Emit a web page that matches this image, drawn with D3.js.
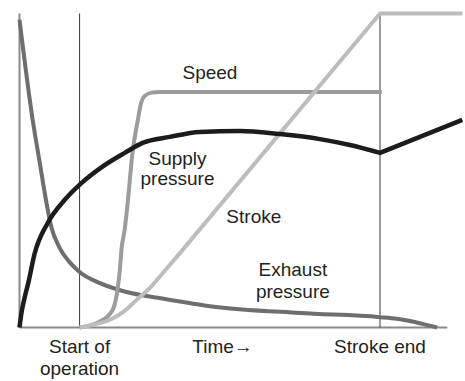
<!DOCTYPE html>
<html>
<head>
<meta charset="utf-8">
<script src="https://cdn.jsdelivr.net/npm/d3@7"></script>
<style>
  html, body { margin: 0; padding: 0; background: #fff; }
  text { font-family: "Liberation Sans", Arial, Helvetica, sans-serif; fill: #231f20; }
</style>
</head>
<body>
<svg id="chart" width="465" height="381"></svg>
<script>
// Time axis: 0 = start of operation, 5 = stroke end (one unit = 1/5 of the stroke time)
// Values are in percent of full scale.
const exhaustPressure = [[-1, 98], [-0.78, 66], [-0.67, 53.3], [-0.55, 39.6], [-0.47, 32],
  [-0.33, 25.3], [-0.17, 20.9], [0, 17.7], [0.33, 14.2], [0.78, 11.3], [1.33, 9.4],
  [2.17, 6.8], [3.67, 4.6], [5, 3.3], [5.28, 2.8], [5.95, 0]];

const supplyPressure = [[-1, 0], [-0.97, 4.3], [-0.92, 9.1], [-0.85, 14.5], [-0.75, 23.4],
  [-0.53, 33.3], [-0.25, 40.6], [0.03, 46], [0.37, 51.1], [0.75, 55.6], [1.05, 58.8],
  [1.5, 60.7], [2, 62.3], [2.67, 62.6], [3.33, 61.6], [4, 60], [4.5, 58.1], [5, 55.6]];
const supplyAfterEnd = [[6.37, 66.1]];

const speed = [[0, 0], [0.33, 1.8], [0.55, 5.6], [0.63, 11.9], [0.67, 18.3], [0.7, 25.3],
  [0.75, 31.1], [0.8, 39.6], [0.88, 55.6], [0.97, 66.1], [1.02, 71.2], [1.08, 73.7],
  [1.2, 74.8], [1.33, 75], [5.03, 75]];

const strokeStart = [[0, 0], [0.25, 1.0], [0.5, 2.4], [0.75, 5.3], [0.95, 8.8],
  [1.17, 12.6], [1.33, 16.1], [1.5, 19.9], [1.67, 23.7]];
const strokeRamp = [[5, 100], [6.37, 100]];

// Vertical reference lines and the time axis
const markerTimes = [0, 5];
const axisStart = -1, axisEnd = 6.12, axisTop = 100;
const tickLabels = [
  { t: 0, lines: ["Start of", "operation"] },
  { t: 2.38, lines: ["Time\u2192"] },
  { t: 5, lines: ["Stroke end"] }
];
const curveLabels = [
  { t: 2.17, v: 79.1, lines: ["Speed"] },
  { t: 1.63, v: 51.8, lines: ["Supply", "pressure"], gap: 20 },
  { t: 2.9, v: 33.3, lines: ["Stroke"] },
  { t: 3.55, v: 16.4, lines: ["Exhaust", "pressure"], gap: 22 }
];

const svg = d3.select("#chart");
const x = d3.scaleLinear().domain([-1, 5]).range([19.5, 380]);
const y = d3.scaleLinear().domain([0, 100]).range([327.5, 13.5]);

// Axes frame
svg.append("line")
  .attr("x1", x(axisStart)).attr("x2", x(axisEnd))
  .attr("y1", y(0)).attr("y2", y(0))
  .attr("stroke", "#8a8a8a").attr("stroke-width", 2);
svg.append("line")
  .attr("x1", x(axisStart)).attr("x2", x(axisStart))
  .attr("y1", y(0)).attr("y2", y(axisTop))
  .attr("stroke", "#8a8a8a").attr("stroke-width", 2);
svg.selectAll("line.marker").data(markerTimes).join("line")
  .attr("class", "marker")
  .attr("x1", d => x(d)).attr("x2", d => x(d))
  .attr("y1", y(0)).attr("y2", y(axisTop))
  .attr("stroke", "#3a3a3a").attr("stroke-width", 1);

// Builds a path: smooth through `curvePts`, then straight segments through `straightPts`
function seriesPath(curvePts, straightPts) {
  const p = d3.path();
  d3.line().x(d => x(d[0])).y(d => y(d[1])).curve(d3.curveMonotoneX).context(p)(curvePts);
  (straightPts || []).forEach(d => p.lineTo(x(d[0]), y(d[1])));
  return p.toString();
}

const series = [
  { d: seriesPath(exhaustPressure), color: "#6e6e6e", w: 4 },
  { d: seriesPath(speed), color: "#9c9c9c", w: 4 },
  { d: seriesPath(strokeStart, strokeRamp), color: "#bdbdbd", w: 4 },
  { d: seriesPath(supplyPressure, supplyAfterEnd), color: "#1c1c1c", w: 4.5 }
];
svg.selectAll("path.series").data(series).join("path")
  .attr("class", "series")
  .attr("d", d => d.d)
  .attr("fill", "none")
  .attr("stroke", d => d.color)
  .attr("stroke-width", d => d.w)
  .attr("stroke-linejoin", "round");

// Curve labels
curveLabels.forEach(l => {
  const t = svg.append("text")
    .attr("text-anchor", "middle")
    .attr("font-size", 19)
    .attr("x", x(l.t)).attr("y", y(l.v));
  l.lines.forEach((s, i) => t.append("tspan")
    .attr("x", x(l.t)).attr("dy", i === 0 ? 0 : l.gap).text(s));
});

// Axis labels under the baseline
tickLabels.forEach(l => {
  const t = svg.append("text")
    .attr("text-anchor", "middle")
    .attr("font-size", 19)
    .attr("x", x(l.t)).attr("y", y(0) + 25.5);
  l.lines.forEach((s, i) => t.append("tspan")
    .attr("x", x(l.t)).attr("dy", i === 0 ? 0 : 22).text(s));
});
</script>
</body>
</html>
